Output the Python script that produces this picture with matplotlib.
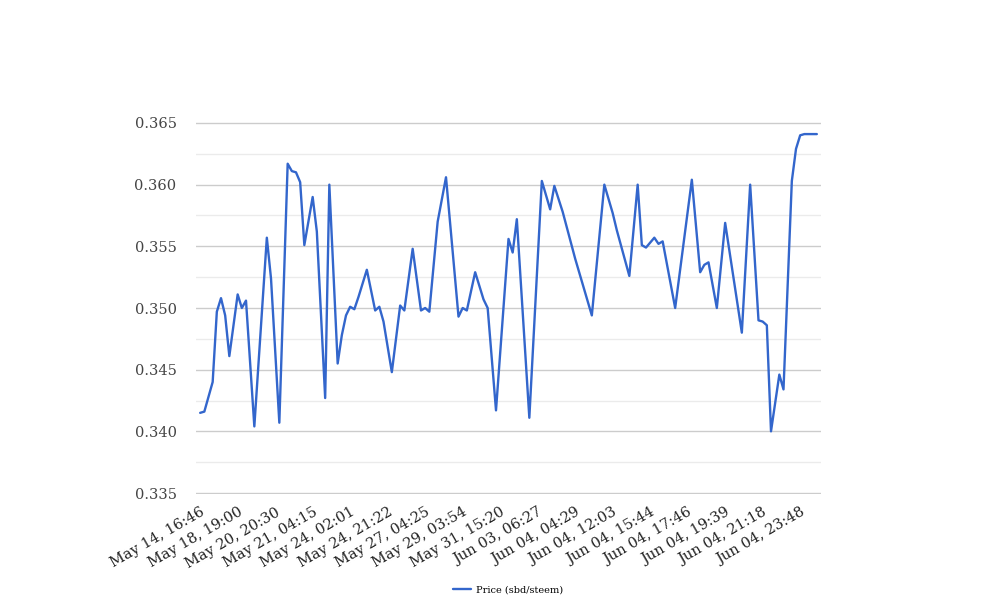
import matplotlib
matplotlib.use("Agg")
import matplotlib.pyplot as plt
from matplotlib.ticker import FormatStrFormatter

# sample index along the category axis and price
idx = [0, 1, 3, 4, 5, 6, 7, 9, 10, 11, 13, 16, 17, 19, 21, 22, 23, 24, 25, 27,
       28, 30, 31, 33, 34, 35, 36, 37, 38, 40, 42, 43, 44, 46, 48, 49, 51, 53,
       54, 55, 57, 59, 62, 63, 64, 66, 68, 69, 71, 74, 75, 76, 79, 82, 84, 85,
       87, 90, 94, 97, 99, 100, 103, 105, 106, 107, 109, 110, 111, 114, 118,
       120, 121, 122, 124, 126, 130, 132, 134, 135, 136, 137, 139, 140, 142,
       143, 144, 145, 146, 147, 148]
price = [0.3415, 0.3416, 0.3440, 0.3497, 0.3508, 0.3494, 0.3461, 0.3511, 0.3500,
         0.3506, 0.3404, 0.3557, 0.3524, 0.3407, 0.3617, 0.3611, 0.3610, 0.3602,
         0.3551, 0.3590, 0.3562, 0.3427, 0.3600, 0.3455, 0.3478, 0.3494, 0.3501,
         0.3499, 0.3509, 0.3531, 0.3498, 0.3501, 0.3489, 0.3448, 0.3502, 0.3498,
         0.3548, 0.3498, 0.3500, 0.3497, 0.3570, 0.3606, 0.3493, 0.3500, 0.3498,
         0.3529, 0.3507, 0.3500, 0.3417, 0.3556, 0.3545, 0.3572, 0.3411, 0.3603,
         0.3580, 0.3599, 0.3578, 0.3540, 0.3494, 0.3600, 0.3577, 0.3563, 0.3526,
         0.3600, 0.3551, 0.3549, 0.3557, 0.3552, 0.3554, 0.3500, 0.3604, 0.3529,
         0.3535, 0.3537, 0.3500, 0.3569, 0.3480, 0.3600, 0.3490, 0.3489, 0.3486,
         0.3400, 0.3446, 0.3434, 0.3603, 0.3629, 0.3640, 0.3641, 0.3641, 0.3641,
         0.3641]

tick_idx = [0, 9, 18, 27, 36, 45, 54, 63, 72, 81, 90, 99, 108, 117, 126, 135, 144]
tick_labels = ["May 14, 16:46", "May 18, 19:00", "May 20, 20:30", "May 21, 04:15",
               "May 24, 02:01", "May 24, 21:22", "May 27, 04:25", "May 29, 03:54",
               "May 31, 15:20", "Jun 03, 06:27", "Jun 04, 04:29", "Jun 04, 12:03",
               "Jun 04, 15:44", "Jun 04, 17:46", "Jun 04, 19:39", "Jun 04, 21:18",
               "Jun 04, 23:48"]

y_major = [0.335, 0.340, 0.345, 0.350, 0.355, 0.360, 0.365]
y_minor = [0.3375, 0.3425, 0.3475, 0.3525, 0.3575, 0.3625]

plt.rcParams['font.family'] = ['DejaVu Serif']

fig = plt.figure(figsize=(10.08, 6.16), dpi=100)
ax = fig.add_axes([196 / 1008, 1 - 494 / 616, 625 / 1008, 372 / 616])

ax.plot(idx, price, color="#3366cc", linewidth=1.7, label="Price (sbd/steem)",
        solid_joinstyle="round", solid_capstyle="round", zorder=3)

ax.set_xlim(-1, 149)
ax.set_ylim(0.33492, 0.36508)
ax.set_yticks(y_major)
ax.set_yticks(y_minor, minor=True)
ax.yaxis.set_major_formatter(FormatStrFormatter("%.3f"))
ax.grid(True, which="major", axis="y", color="#cccccc", linewidth=1)
ax.grid(True, which="minor", axis="y", color="#ebebeb", linewidth=1)
ax.set_axisbelow(True)

ax.set_xticks(tick_idx)
ax.set_xticklabels(tick_labels, rotation=30, ha="right", rotation_mode="anchor",
                   fontsize=10.5, color="#222222")
ax.tick_params(axis="x", length=0, pad=8)
ax.tick_params(axis="y", which="both", length=0, pad=14, labelsize=10.5,
               labelcolor="#444444")

for s in ax.spines.values():
    s.set_visible(False)

fig.legend(loc="center", bbox_to_anchor=(508 / 1008, 1 - 590 / 616), frameon=False,
           fontsize=7, handlelength=1.9, handletextpad=0.5)

fig.savefig("out.png", dpi=100)
